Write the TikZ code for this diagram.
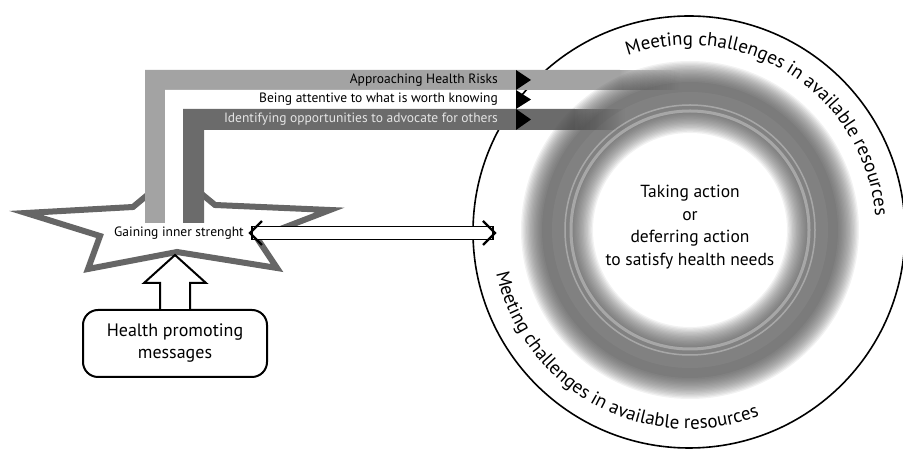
\documentclass[tikz,border=0pt]{standalone}
\usepackage{fontspec}
\setmainfont{PT Sans}
\usetikzlibrary{decorations.text,fadings}
\definecolor{lightbar}{HTML}{A3A3A3}
\definecolor{darkbar}{HTML}{6B6B6B}
\definecolor{ringgray}{HTML}{4E4E4E}
\definecolor{stargray}{HTML}{666666}
\newcommand\arcfont{\fontsize{19}{22}\selectfont}

\begin{document}
\begin{tikzpicture}[x=1pt, y=1pt]
\tikzset{barlabel/.style={anchor=east, inner sep=0pt, font=\fontsize{13.5}{16}\selectfont},
  starline/.style={draw=stargray, line width=6pt, fill=white, line join=miter},
  blockarrow/.style={draw, line width=2pt, fill=white, line join=miter},
  shaftline/.style={draw, line width=1.3pt, fill=white},
  chevron/.style={draw, line width=2.2pt, line join=miter},
  tri/.style={fill=black}}
\useasboundingbox (0,0) rectangle (903,452);
\coordinate (ringc) at (689,220);
\draw[line width=1.6pt] (ringc) circle[radius=216];
% star
\draw[starline] (26,239) -- (133,245) -- (175,280) -- (215,247) -- (330,242)
  -- (257,214) -- (277,184) -- (177,200) -- (88,183) -- (100,216) -- cycle;
% bars
\fill[lightbar] (145,229) -- (145,382) -- (620,382) -- (620,362) -- (165,362) -- (165,229) -- cycle;
\fill[lightbar, path fading=east] (619,362) rectangle (680,382);
\fill[white] (165,229) -- (165,362) -- (516,362) -- (516,343) -- (183,343) -- (183,229) -- cycle;
\fill[darkbar] (183,229) -- (183,343) -- (575,343) -- (575,322) -- (204,322) -- (204,229) -- cycle;
\fill[darkbar, path fading=east] (574,322) rectangle (625,343);
% ring
\foreach \i in {0,...,15}
  \draw[ringgray, line width=72pt-2.6pt*\i, opacity=0.075] (690,222) circle[radius=133];
\draw[ringgray, line width=10pt, opacity=0.12] (690,222) circle[radius=143];
\draw[white, line width=3pt, opacity=0.3] (690,222) circle[radius=119];
\draw[white, line width=1.5pt, opacity=0.3] (690,222) circle[radius=125];
% arrowheads
\fill[tri] (516,382) -- (531,372) -- (516,362) -- cycle;
\fill[tri] (516,362) -- (531,352.5) -- (516,343) -- cycle;
\fill[tri] (516,343) -- (531,332.5) -- (516,322) -- cycle;
\node[barlabel] (risks) at (498,372) {Approaching Health Risks};
\node[barlabel] (knowing) at (498,352.5) {Being attentive to what is worth knowing};
\node[barlabel, text=white!90!black] (others) at (498,332.5) {Identifying opportunities to advocate for others};
% centre and arc texts
\node[align=center, font=\fontsize{17.5}{22.5}\selectfont] (action) at (690,225)
  {Taking action\\or\\deferring action\\to satisfy health needs};
\path[decorate, decoration={text along path, text align=center,
  text={|\arcfont|Meeting challenges in available resources}}]
  (ringc) ++(124:187) arc[start angle=124, end angle=-10, radius=187];
\path[decorate, decoration={text along path, text align=center,
  text={|\arcfont|Meeting challenges in available resources}}]
  (ringc) ++(170:197) arc[start angle=170, end angle=313, radius=197];
% left side
\node[inner sep=1pt, font=\fontsize{13.5}{16}\selectfont] (strength) at (179,219) {Gaining inner strenght};
\coordinate (dblL) at ([xshift=5pt]strength.east);
\coordinate (circW) at (495,219);
\draw[shaftline] ([shift={(2,-6.5)}]dblL) rectangle ([shift={(-2,6.5)}]circW);
\draw[chevron] ([shift={(12,12)}]dblL) -- (dblL) -- ([shift={(12,-12)}]dblL);
\draw[chevron] ([shift={(-12,12)}]circW) -- (circW) -- ([shift={(-12,-12)}]circW);
\node[draw, line width=2pt, rounded corners=15pt, minimum width=184pt, minimum height=67pt,
  align=center, font=\fontsize{18}{22}\selectfont] (msg) at (175,108.5) {Health promoting\\messages};
\draw[blockarrow] (msg.north) ++(-15,0) -- ++(0,26) -- ++(-16,0) -- ++(31,28)
  -- ++(31,-28) -- ++(-16,0) -- ++(0,-26);
\end{tikzpicture}
\end{document}
